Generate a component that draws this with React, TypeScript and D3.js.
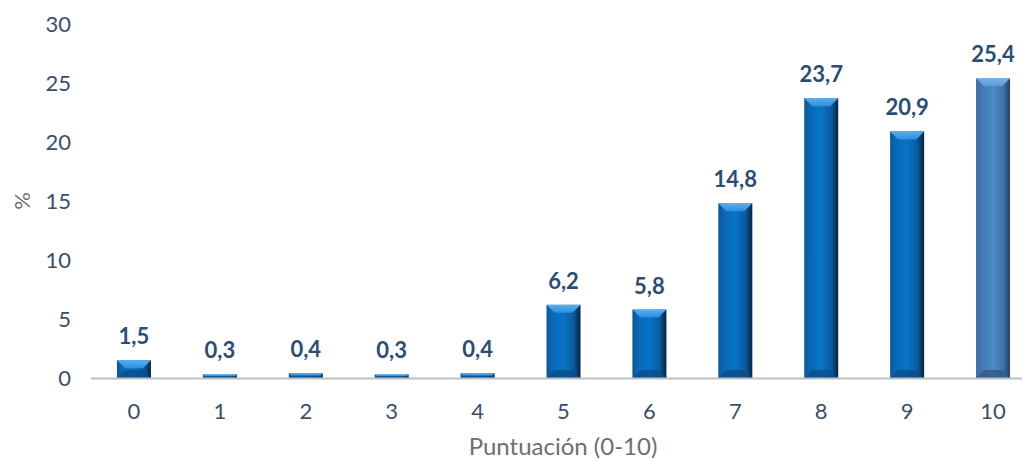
import React from "react";
import * as d3 from "d3";

const categories = ["0", "1", "2", "3", "4", "5", "6", "7", "8", "9", "10"];
const values = [1.5, 0.3, 0.4, 0.3, 0.4, 6.2, 5.8, 14.8, 23.7, 20.9, 25.4];
const yTicks = [0, 5, 10, 15, 20, 25, 30];

const W = 1025;
const H = 461;

export default function App() {
  const x = d3.scaleBand<string>().domain(categories).range([91, 1036]).paddingInner(0.6).paddingOuter(0.3);
  const y = d3.scaleLinear().domain([0, 30]).range([378, 24]);
  const bw = 34;
  const fmt = (v: number) => v.toFixed(1).replace(".", ",");
  const tickColor = "#3b4e6e";
  const font = "Lato, 'Open Sans', sans-serif";

  return (
    <svg width={W} height={H} style={{ position: "absolute", left: 0, top: 0, background: "#fff" }}>
      <defs>
        <linearGradient id="gMain" x1="0" x2="1" y1="0" y2="0">
          <stop offset="0" stopColor="#0b5796" />
          <stop offset="0.15" stopColor="#0a66b2" />
          <stop offset="0.5" stopColor="#0874c8" />
          <stop offset="0.8" stopColor="#0a5a9e" />
          <stop offset="1" stopColor="#07233f" />
        </linearGradient>
        <linearGradient id="gLast" x1="0" x2="1" y1="0" y2="0">
          <stop offset="0" stopColor="#3b6ea3" />
          <stop offset="0.15" stopColor="#4278b0" />
          <stop offset="0.5" stopColor="#4c8bc6" />
          <stop offset="0.8" stopColor="#3e73a8" />
          <stop offset="1" stopColor="#263f5c" />
        </linearGradient>
        <linearGradient id="gTop" x1="0" x2="0" y1="0" y2="1">
          <stop offset="0" stopColor="#5aaef0" />
          <stop offset="1" stopColor="#2a8ee0" />
        </linearGradient>
        <linearGradient id="gTopLast" x1="0" x2="0" y1="0" y2="1">
          <stop offset="0" stopColor="#78b4ea" />
          <stop offset="1" stopColor="#5a9ad6" />
        </linearGradient>
      </defs>

      {yTicks.map((t) => (
        <text key={t} x={71} y={y(t)} dy="0.35em" textAnchor="end" fontFamily={font} fontSize={22} fill={tickColor}>
          {t}
        </text>
      ))}
      <text transform={`translate(22,${y(15)}) rotate(-90)`} textAnchor="middle" dy="0.35em" fontFamily={font} fontSize={22} fill="#6e6e6e">
        %
      </text>

      {categories.map((c, i) => {
        const v = values[i];
        const cx = (x(c) as number) + x.bandwidth() / 2;
        const x0 = cx - bw / 2;
        const top = y(v);
        const h = y(0) - top;
        const bev = Math.min(8, h / 2);
        const last = i === categories.length - 1;
        return (
          <g key={c}>
            <rect x={x0} y={top} width={bw} height={h} fill={last ? "url(#gLast)" : "url(#gMain)"} />
            <polygon
              points={`${x0},${top} ${x0 + bw},${top} ${x0 + bw - bev},${top + bev} ${x0 + bev},${top + bev}`}
              fill={last ? "url(#gTopLast)" : "url(#gTop)"}
            />
            <polygon
              points={`${x0},${y(0)} ${x0 + bw},${y(0)} ${x0 + bw - bev},${y(0) - bev} ${x0 + bev},${y(0) - bev}`}
              fill={last ? "#2f5a86" : "#0a4d88"}
              opacity={0.8}
            />
            <text x={cx} y={top - 16} textAnchor="middle" fontFamily={font} fontWeight="bold" fontSize={22} fill="#2b4d75">
              {fmt(v)}
            </text>
            <text x={cx} y={411} textAnchor="middle" dy="0.35em" fontFamily={font} fontSize={22} fill={tickColor}>
              {c}
            </text>
          </g>
        );
      })}

      <line x1={91} x2={1022} y1={378.5} y2={378.5} stroke="#bfbfbf" strokeWidth={2} />

      <text x={563} y={447} textAnchor="middle" dy="0.35em" fontFamily={font} fontSize={24} fill="#6e6e6e">
        Puntuación (0-10)
      </text>
    </svg>
  );
}
